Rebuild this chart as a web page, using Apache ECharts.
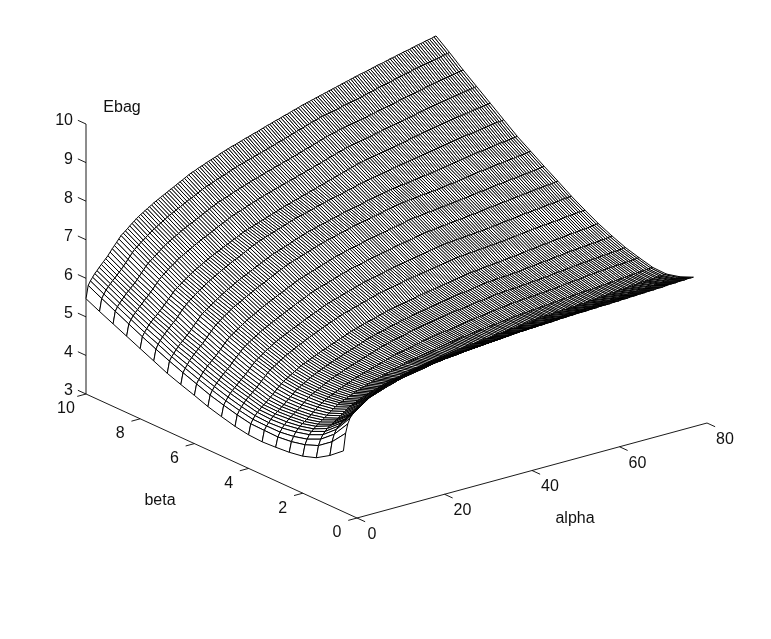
<!DOCTYPE html>
<html><head><meta charset="utf-8"><style>html,body{margin:0;background:#fff}#c{width:771px;height:639px}</style>
<script src="https://cdn.jsdelivr.net/npm/echarts@6/dist/echarts.min.js"></script></head><body><div id="c"></div>
<script>
const alphaTicks=[0,20,40,60,80];
const betaTicks=[0,2,4,6,8,10];
const ebagTicks=[3,4,5,6,7,8,9,10];
const alphaGrid=[0,
.5,1,1.5,2,2.5,3,3.5,4,4.5,5,5.5,6,6.5,7,7.5,8,8.5,9,9.5,10,
10.5,11,11.5,12,12.5,13,13.5,14,14.5,15,15.5,16,16.5,17,17.5,18,18.5,19,19.5,20,
20.5,21,21.5,22,22.5,23,23.5,24,24.5,25,25.5,26,26.5,27,27.5,28,28.5,29,29.5,30,
30.5,31,31.5,32,32.5,33,33.5,34,34.5,35,35.5,36,36.5,37,37.5,38,38.5,39,39.5,40,
40.5,41,41.5,42,42.5,43,43.5,44,44.5,45,45.5,46,46.5,47,47.5,48,48.5,49,49.5,50,
50.5,51,51.5,52,52.5,53,53.5,54,54.5,55,55.5,56,56.5,57,57.5,58,58.5,59,59.5,60,
60.5,61,61.5,62,62.5,63,63.5,64,64.5,65,65.5,66,66.5,67,67.5,68,68.5,69,69.5,70,
70.5,71,71.5,72,72.5,73,73.5,74,74.5,75,75.5,76,76.5,77,77.5,78,78.5,79,79.5,80];
const betaGrid=[0.5,1,1.5,2,2.5,3,3.5,4,4.5,5,5.5,6,6.5,7,7.5,8,8.5,9,9.5,10];
const ebag=[
[4.58,
5.02,5.25,5.38,5.45,5.50,5.54,5.58,5.62,5.66,5.70,
5.74,5.78,5.82,5.85,5.88,5.91,5.93,5.95,5.97,5.99,
6.01,6.02,6.04,6.05,6.07,6.08,6.10,6.11,6.13,6.14,
6.16,6.17,6.18,6.19,6.20,6.21,6.22,6.22,6.23,6.24,
6.25,6.25,6.26,6.27,6.28,6.28,6.29,6.29,6.30,6.30,
6.31,6.31,6.31,6.31,6.32,6.32,6.33,6.33,6.34,6.34,
6.34,6.34,6.35,6.35,6.36,6.36,6.37,6.37,6.38,6.38,
6.38,6.38,6.39,6.39,6.40,6.40,6.41,6.41,6.42,6.42,
6.43,6.43,6.43,6.43,6.44,6.44,6.44,6.44,6.45,6.45,
6.45,6.45,6.46,6.46,6.46,6.46,6.47,6.47,6.48,6.48,
6.48,6.48,6.49,6.49,6.49,6.49,6.50,6.50,6.50,6.50,
6.50,6.50,6.51,6.51,6.51,6.51,6.52,6.52,6.52,6.52,
6.52,6.52,6.53,6.53,6.53,6.53,6.54,6.54,6.54,6.54,
6.55,6.55,6.55,6.55,6.56,6.56,6.56,6.56,6.57,6.57,
6.57,6.57,6.58,6.58,6.58,6.58,6.59,6.59,6.60,6.60,
6.60,6.60,6.61,6.61,6.61,6.61,6.62,6.62,6.62,6.62],
[4.30,
4.64,4.82,4.93,5.00,5.06,5.11,5.14,5.19,5.22,5.26,
5.30,5.34,5.38,5.41,5.45,5.48,5.50,5.52,5.54,5.56,
5.58,5.60,5.62,5.64,5.66,5.68,5.70,5.71,5.73,5.75,
5.77,5.78,5.80,5.81,5.82,5.83,5.84,5.85,5.86,5.87,
5.88,5.89,5.90,5.91,5.93,5.94,5.95,5.96,5.97,5.97,
5.98,5.99,6.00,6.00,6.01,6.01,6.02,6.02,6.03,6.04,
6.05,6.05,6.06,6.06,6.07,6.07,6.08,6.08,6.09,6.09,
6.10,6.10,6.11,6.12,6.13,6.13,6.14,6.14,6.15,6.15,
6.16,6.16,6.17,6.17,6.18,6.18,6.19,6.19,6.20,6.20,
6.21,6.21,6.22,6.22,6.23,6.23,6.24,6.24,6.25,6.25,
6.26,6.26,6.26,6.26,6.27,6.27,6.28,6.28,6.28,6.28,
6.29,6.29,6.30,6.30,6.30,6.30,6.31,6.31,6.32,6.32,
6.33,6.33,6.34,6.34,6.34,6.34,6.35,6.35,6.36,6.36,
6.37,6.37,6.38,6.38,6.38,6.38,6.39,6.39,6.40,6.40,
6.41,6.41,6.41,6.41,6.42,6.42,6.43,6.43,6.44,6.44,
6.44,6.44,6.45,6.45,6.46,6.46,6.46,6.46,6.47,6.47],
[4.08,
4.38,4.53,4.63,4.70,4.76,4.81,4.84,4.88,4.92,4.95,
5.00,5.04,5.08,5.12,5.16,5.19,5.22,5.24,5.27,5.29,
5.32,5.34,5.36,5.38,5.40,5.42,5.44,5.45,5.47,5.49,
5.51,5.52,5.54,5.55,5.56,5.57,5.59,5.60,5.62,5.63,
5.64,5.65,5.67,5.68,5.69,5.70,5.72,5.73,5.74,5.75,
5.76,5.77,5.78,5.79,5.80,5.81,5.82,5.82,5.83,5.84,
5.85,5.86,5.87,5.88,5.89,5.89,5.90,5.91,5.92,5.92,
5.93,5.93,5.94,5.95,5.96,5.96,5.97,5.97,5.98,5.99,
6.00,6.00,6.01,6.01,6.02,6.03,6.04,6.04,6.05,6.05,
6.06,6.07,6.08,6.08,6.09,6.09,6.10,6.11,6.12,6.12,
6.13,6.13,6.14,6.14,6.14,6.14,6.15,6.15,6.16,6.16,
6.16,6.16,6.17,6.17,6.18,6.18,6.18,6.18,6.19,6.19,
6.20,6.20,6.21,6.21,6.22,6.22,6.23,6.23,6.24,6.24,
6.25,6.25,6.26,6.26,6.27,6.27,6.28,6.28,6.29,6.29,
6.30,6.30,6.31,6.31,6.32,6.32,6.33,6.33,6.34,6.34,
6.34,6.34,6.35,6.35,6.36,6.36,6.37,6.37,6.38,6.38],
[3.96,
4.24,4.37,4.47,4.54,4.59,4.64,4.68,4.72,4.76,4.80,
4.85,4.89,4.93,4.97,5.01,5.05,5.08,5.10,5.13,5.15,
5.18,5.20,5.23,5.25,5.27,5.29,5.31,5.33,5.35,5.37,
5.39,5.41,5.43,5.44,5.46,5.47,5.49,5.50,5.52,5.54,
5.56,5.57,5.59,5.60,5.62,5.63,5.65,5.66,5.67,5.68,
5.69,5.70,5.72,5.73,5.74,5.75,5.76,5.77,5.78,5.79,
5.81,5.82,5.83,5.84,5.85,5.86,5.87,5.87,5.88,5.89,
5.90,5.91,5.92,5.92,5.93,5.94,5.95,5.95,5.96,5.97,
5.98,5.98,5.99,6.00,6.01,6.01,6.02,6.02,6.03,6.04,
6.05,6.05,6.06,6.06,6.07,6.08,6.09,6.09,6.10,6.10,
6.11,6.11,6.12,6.12,6.13,6.13,6.14,6.14,6.15,6.15,
6.16,6.16,6.17,6.17,6.18,6.18,6.19,6.19,6.20,6.20,
6.21,6.21,6.22,6.22,6.23,6.23,6.24,6.24,6.25,6.25,
6.25,6.25,6.26,6.26,6.27,6.27,6.28,6.28,6.29,6.29,
6.30,6.30,6.31,6.31,6.32,6.32,6.33,6.33,6.34,6.34,
6.35,6.35,6.36,6.36,6.37,6.37,6.38,6.38,6.39,6.39],
[3.90,
4.16,4.28,4.38,4.45,4.50,4.55,4.59,4.63,4.68,4.72,
4.77,4.82,4.87,4.91,4.95,4.99,5.02,5.05,5.08,5.10,
5.13,5.16,5.19,5.21,5.24,5.26,5.28,5.30,5.33,5.35,
5.37,5.39,5.41,5.43,5.45,5.46,5.48,5.50,5.52,5.53,
5.55,5.57,5.59,5.60,5.62,5.64,5.66,5.67,5.69,5.70,
5.71,5.72,5.74,5.75,5.76,5.77,5.79,5.80,5.81,5.82,
5.84,5.85,5.86,5.87,5.88,5.89,5.90,5.91,5.92,5.93,
5.94,5.94,5.95,5.96,5.97,5.98,5.99,6.00,6.01,6.02,
6.03,6.04,6.05,6.05,6.06,6.07,6.08,6.08,6.09,6.10,
6.11,6.12,6.13,6.13,6.14,6.15,6.16,6.16,6.17,6.18,
6.19,6.19,6.20,6.20,6.21,6.21,6.22,6.22,6.23,6.23,
6.23,6.23,6.24,6.24,6.25,6.25,6.26,6.26,6.27,6.27,
6.28,6.28,6.29,6.29,6.30,6.31,6.32,6.32,6.33,6.33,
6.34,6.34,6.35,6.35,6.36,6.37,6.38,6.38,6.39,6.39,
6.40,6.40,6.41,6.41,6.42,6.42,6.43,6.43,6.44,6.44,
6.44,6.44,6.45,6.45,6.46,6.46,6.47,6.47,6.48,6.48],
[3.87,
4.12,4.23,4.32,4.39,4.45,4.51,4.55,4.60,4.64,4.68,
4.73,4.78,4.83,4.88,4.93,4.97,5.00,5.03,5.06,5.09,
5.12,5.15,5.18,5.21,5.24,5.26,5.29,5.31,5.33,5.35,
5.38,5.40,5.42,5.44,5.46,5.48,5.50,5.52,5.54,5.56,
5.58,5.60,5.62,5.64,5.66,5.68,5.70,5.72,5.74,5.75,
5.77,5.78,5.80,5.81,5.83,5.84,5.85,5.86,5.88,5.89,
5.91,5.92,5.94,5.95,5.96,5.97,5.98,5.99,6.00,6.01,
6.02,6.03,6.04,6.05,6.06,6.07,6.08,6.09,6.10,6.11,
6.12,6.13,6.14,6.14,6.15,6.16,6.17,6.17,6.18,6.19,
6.20,6.21,6.22,6.22,6.23,6.24,6.25,6.25,6.26,6.27,
6.28,6.28,6.29,6.29,6.30,6.30,6.31,6.31,6.31,6.31,
6.32,6.32,6.33,6.33,6.34,6.34,6.35,6.35,6.36,6.36,
6.37,6.37,6.38,6.38,6.39,6.40,6.41,6.41,6.42,6.42,
6.43,6.43,6.44,6.44,6.45,6.46,6.47,6.47,6.48,6.48,
6.49,6.49,6.50,6.50,6.51,6.51,6.52,6.52,6.53,6.53,
6.54,6.54,6.55,6.55,6.56,6.56,6.57,6.57,6.58,6.58],
[3.85,
4.13,4.23,4.30,4.37,4.43,4.48,4.53,4.57,4.62,4.66,
4.72,4.77,4.82,4.87,4.92,4.97,5.00,5.04,5.07,5.10,
5.14,5.17,5.20,5.23,5.26,5.28,5.31,5.33,5.36,5.38,
5.41,5.43,5.45,5.47,5.49,5.51,5.54,5.56,5.58,5.60,
5.62,5.64,5.66,5.68,5.70,5.73,5.75,5.77,5.79,5.80,
5.82,5.83,5.85,5.86,5.88,5.89,5.91,5.92,5.94,5.95,
5.97,5.98,6.00,6.01,6.02,6.03,6.04,6.05,6.07,6.08,
6.09,6.10,6.11,6.12,6.13,6.14,6.16,6.17,6.18,6.19,
6.20,6.21,6.22,6.23,6.24,6.25,6.26,6.27,6.28,6.29,
6.30,6.30,6.31,6.32,6.33,6.34,6.35,6.36,6.37,6.38,
6.39,6.39,6.40,6.40,6.41,6.41,6.42,6.42,6.43,6.43,
6.43,6.43,6.44,6.44,6.45,6.45,6.46,6.46,6.47,6.48,
6.49,6.49,6.50,6.50,6.51,6.52,6.53,6.53,6.54,6.54,
6.55,6.56,6.57,6.57,6.58,6.58,6.59,6.60,6.61,6.61,
6.62,6.62,6.63,6.63,6.64,6.64,6.65,6.65,6.66,6.66,
6.67,6.67,6.68,6.68,6.69,6.69,6.70,6.71,6.72,6.72],
[3.87,
4.14,4.24,4.32,4.39,4.44,4.50,4.54,4.59,4.64,4.69,
4.75,4.80,4.86,4.91,4.96,5.01,5.05,5.08,5.12,5.15,
5.19,5.22,5.26,5.29,5.32,5.34,5.37,5.39,5.42,5.44,
5.47,5.49,5.52,5.54,5.56,5.58,5.61,5.63,5.65,5.67,
5.70,5.72,5.74,5.76,5.79,5.81,5.83,5.85,5.87,5.88,
5.90,5.92,5.94,5.95,5.97,5.98,6.00,6.01,6.03,6.05,
6.07,6.08,6.10,6.11,6.12,6.13,6.15,6.16,6.17,6.18,
6.19,6.20,6.22,6.23,6.24,6.25,6.27,6.28,6.29,6.30,
6.31,6.32,6.33,6.34,6.35,6.36,6.37,6.38,6.39,6.40,
6.41,6.42,6.43,6.44,6.45,6.46,6.47,6.48,6.49,6.50,
6.51,6.51,6.52,6.52,6.53,6.54,6.55,6.55,6.56,6.56,
6.57,6.57,6.58,6.58,6.59,6.60,6.61,6.61,6.62,6.62,
6.63,6.63,6.64,6.65,6.66,6.66,6.67,6.68,6.69,6.69,
6.70,6.70,6.71,6.72,6.73,6.73,6.74,6.75,6.76,6.76,
6.77,6.77,6.78,6.78,6.79,6.80,6.81,6.81,6.82,6.82,
6.83,6.83,6.84,6.84,6.85,6.86,6.87,6.87,6.88,6.88],
[3.93,
4.21,4.31,4.39,4.47,4.53,4.59,4.63,4.69,4.74,4.79,
4.85,4.91,4.97,5.03,5.09,5.14,5.18,5.21,5.25,5.29,
5.33,5.36,5.40,5.43,5.46,5.49,5.52,5.55,5.58,5.60,
5.63,5.66,5.69,5.71,5.74,5.76,5.79,5.81,5.84,5.86,
5.89,5.91,5.94,5.96,5.98,6.00,6.03,6.05,6.07,6.09,
6.11,6.12,6.14,6.16,6.18,6.19,6.21,6.23,6.25,6.26,
6.28,6.30,6.32,6.33,6.35,6.36,6.37,6.38,6.40,6.41,
6.42,6.43,6.45,6.46,6.47,6.48,6.50,6.51,6.52,6.53,
6.54,6.55,6.56,6.57,6.58,6.59,6.60,6.61,6.62,6.63,
6.64,6.65,6.66,6.67,6.68,6.69,6.70,6.71,6.72,6.73,
6.74,6.74,6.75,6.75,6.76,6.76,6.77,6.77,6.78,6.78,
6.79,6.79,6.80,6.80,6.81,6.81,6.82,6.82,6.83,6.83,
6.84,6.84,6.85,6.86,6.87,6.87,6.88,6.88,6.89,6.90,
6.91,6.91,6.92,6.92,6.93,6.94,6.95,6.95,6.96,6.96,
6.97,6.97,6.98,6.98,6.99,6.99,7.00,7.00,7.01,7.02,
7.03,7.03,7.04,7.04,7.05,7.05,7.06,7.06,7.07,7.07],
[4.02,
4.30,4.40,4.48,4.56,4.62,4.68,4.73,4.79,4.84,4.89,
4.95,5.01,5.07,5.13,5.19,5.24,5.28,5.32,5.36,5.40,
5.44,5.47,5.51,5.55,5.58,5.61,5.64,5.67,5.70,5.72,
5.75,5.78,5.81,5.83,5.86,5.88,5.91,5.94,5.97,5.99,
6.02,6.04,6.07,6.09,6.12,6.14,6.17,6.19,6.21,6.23,
6.25,6.26,6.28,6.30,6.32,6.34,6.36,6.37,6.39,6.41,
6.43,6.44,6.46,6.48,6.50,6.51,6.52,6.53,6.55,6.56,
6.58,6.59,6.60,6.61,6.63,6.64,6.65,6.66,6.68,6.69,
6.70,6.71,6.72,6.73,6.75,6.76,6.77,6.78,6.79,6.80,
6.81,6.82,6.83,6.84,6.86,6.87,6.88,6.89,6.90,6.91,
6.91,6.92,6.93,6.93,6.94,6.94,6.95,6.95,6.96,6.96,
6.97,6.97,6.98,6.98,6.99,6.99,7.00,7.00,7.01,7.01,
7.02,7.02,7.03,7.04,7.05,7.05,7.06,7.07,7.08,7.08,
7.09,7.09,7.10,7.11,7.12,7.12,7.13,7.14,7.15,7.15,
7.16,7.16,7.17,7.17,7.18,7.19,7.20,7.20,7.21,7.21,
7.22,7.22,7.23,7.23,7.24,7.25,7.26,7.26,7.27,7.27],
[4.12,
4.40,4.51,4.59,4.67,4.73,4.79,4.85,4.90,4.96,5.01,
5.08,5.14,5.20,5.26,5.32,5.38,5.42,5.46,5.50,5.54,
5.58,5.61,5.65,5.69,5.72,5.75,5.78,5.81,5.84,5.87,
5.90,5.93,5.96,5.98,6.01,6.04,6.07,6.09,6.12,6.15,
6.18,6.20,6.23,6.25,6.28,6.31,6.34,6.36,6.38,6.40,
6.42,6.44,6.46,6.47,6.49,6.51,6.53,6.55,6.57,6.59,
6.61,6.62,6.64,6.66,6.68,6.69,6.71,6.72,6.73,6.74,
6.76,6.77,6.79,6.80,6.82,6.83,6.84,6.85,6.87,6.88,
6.89,6.90,6.91,6.92,6.94,6.95,6.96,6.97,6.98,6.99,
7.00,7.01,7.02,7.03,7.05,7.06,7.07,7.08,7.09,7.10,
7.11,7.11,7.12,7.13,7.14,7.14,7.15,7.15,7.16,7.17,
7.18,7.18,7.19,7.19,7.20,7.20,7.21,7.22,7.23,7.23,
7.24,7.24,7.25,7.26,7.27,7.27,7.28,7.29,7.30,7.30,
7.31,7.31,7.32,7.33,7.34,7.34,7.35,7.36,7.37,7.37,
7.38,7.38,7.39,7.40,7.41,7.41,7.42,7.42,7.43,7.44,
7.45,7.45,7.46,7.46,7.47,7.47,7.48,7.49,7.50,7.50],
[4.25,
4.53,4.63,4.71,4.79,4.85,4.92,4.97,5.03,5.08,5.13,
5.20,5.26,5.33,5.39,5.45,5.51,5.55,5.59,5.63,5.67,
5.71,5.75,5.79,5.83,5.86,5.89,5.92,5.95,5.99,6.02,
6.05,6.08,6.11,6.14,6.17,6.19,6.22,6.25,6.28,6.30,
6.33,6.36,6.39,6.41,6.44,6.47,6.50,6.52,6.54,6.56,
6.58,6.60,6.62,6.64,6.66,6.68,6.70,6.72,6.74,6.76,
6.78,6.80,6.82,6.84,6.86,6.87,6.89,6.90,6.92,6.93,
6.95,6.96,6.97,6.98,7.00,7.01,7.03,7.04,7.06,7.07,
7.08,7.09,7.11,7.12,7.13,7.14,7.15,7.16,7.18,7.19,
7.20,7.21,7.22,7.23,7.24,7.25,7.27,7.28,7.29,7.30,
7.31,7.31,7.32,7.33,7.34,7.34,7.35,7.35,7.36,7.37,
7.38,7.38,7.39,7.39,7.40,7.41,7.42,7.42,7.43,7.43,
7.44,7.45,7.46,7.46,7.47,7.48,7.49,7.49,7.50,7.51,
7.52,7.52,7.53,7.54,7.55,7.55,7.56,7.57,7.58,7.58,
7.59,7.59,7.60,7.61,7.62,7.62,7.63,7.64,7.65,7.65,
7.66,7.66,7.67,7.68,7.69,7.69,7.70,7.71,7.72,7.72],
[4.37,
4.66,4.76,4.84,4.93,4.99,5.06,5.11,5.17,5.23,5.28,
5.35,5.41,5.48,5.54,5.61,5.67,5.71,5.75,5.80,5.84,
5.88,5.92,5.96,6.00,6.03,6.06,6.09,6.12,6.16,6.19,
6.22,6.25,6.28,6.31,6.34,6.37,6.40,6.42,6.45,6.48,
6.51,6.54,6.57,6.60,6.63,6.65,6.68,6.71,6.73,6.75,
6.77,6.79,6.81,6.83,6.85,6.87,6.89,6.91,6.93,6.95,
6.97,6.99,7.01,7.03,7.05,7.06,7.08,7.09,7.11,7.12,
7.14,7.15,7.17,7.18,7.20,7.21,7.23,7.24,7.26,7.27,
7.28,7.29,7.31,7.32,7.33,7.34,7.36,7.37,7.38,7.39,
7.40,7.41,7.43,7.44,7.45,7.46,7.48,7.49,7.50,7.51,
7.52,7.52,7.53,7.54,7.55,7.55,7.56,7.56,7.57,7.58,
7.59,7.59,7.60,7.60,7.61,7.61,7.62,7.63,7.64,7.64,
7.65,7.66,7.67,7.67,7.68,7.69,7.70,7.71,7.72,7.73,
7.74,7.74,7.75,7.76,7.77,7.78,7.79,7.79,7.80,7.81,
7.82,7.82,7.83,7.84,7.85,7.85,7.86,7.87,7.88,7.88,
7.89,7.89,7.90,7.91,7.92,7.92,7.93,7.94,7.95,7.95],
[4.50,
4.80,4.90,4.97,5.05,5.11,5.18,5.23,5.29,5.35,5.40,
5.47,5.54,5.61,5.67,5.74,5.80,5.84,5.88,5.92,5.96,
6.00,6.04,6.08,6.12,6.16,6.19,6.23,6.26,6.29,6.32,
6.36,6.39,6.42,6.45,6.48,6.50,6.53,6.56,6.59,6.62,
6.65,6.67,6.70,6.73,6.76,6.78,6.81,6.84,6.86,6.88,
6.90,6.92,6.94,6.96,6.98,7.00,7.03,7.05,7.07,7.09,
7.11,7.13,7.15,7.17,7.19,7.20,7.22,7.23,7.25,7.26,
7.28,7.29,7.31,7.32,7.34,7.35,7.37,7.38,7.40,7.41,
7.43,7.44,7.45,7.46,7.48,7.49,7.50,7.51,7.53,7.54,
7.56,7.57,7.58,7.59,7.61,7.62,7.63,7.64,7.66,7.67,
7.68,7.69,7.70,7.70,7.71,7.72,7.73,7.73,7.74,7.75,
7.76,7.77,7.78,7.78,7.79,7.80,7.81,7.81,7.82,7.83,
7.84,7.85,7.86,7.87,7.88,7.89,7.90,7.91,7.92,7.93,
7.94,7.94,7.95,7.96,7.97,7.98,7.99,8.00,8.01,8.02,
8.03,8.04,8.05,8.05,8.06,8.07,8.08,8.08,8.09,8.10,
8.11,8.12,8.13,8.13,8.14,8.15,8.16,8.16,8.17,8.18],
[4.66,
4.95,5.06,5.14,5.22,5.28,5.35,5.40,5.46,5.52,5.57,
5.64,5.71,5.78,5.84,5.90,5.96,6.00,6.04,6.09,6.13,
6.17,6.21,6.25,6.29,6.33,6.36,6.40,6.43,6.46,6.49,
6.53,6.56,6.59,6.62,6.65,6.68,6.71,6.73,6.76,6.79,
6.82,6.85,6.88,6.91,6.94,6.96,6.99,7.02,7.04,7.06,
7.08,7.10,7.12,7.14,7.16,7.18,7.20,7.22,7.24,7.26,
7.28,7.30,7.32,7.34,7.36,7.37,7.39,7.40,7.42,7.43,
7.45,7.46,7.48,7.50,7.52,7.53,7.55,7.56,7.58,7.59,
7.61,7.62,7.64,7.65,7.66,7.67,7.69,7.70,7.72,7.73,
7.75,7.76,7.78,7.79,7.80,7.81,7.83,7.84,7.86,7.87,
7.88,7.89,7.90,7.91,7.92,7.93,7.94,7.95,7.97,7.98,
7.99,8.00,8.01,8.02,8.03,8.04,8.05,8.06,8.07,8.08,
8.09,8.10,8.11,8.12,8.13,8.14,8.15,8.16,8.17,8.18,
8.19,8.20,8.21,8.22,8.23,8.24,8.25,8.26,8.27,8.28,
8.29,8.30,8.31,8.31,8.32,8.33,8.34,8.35,8.36,8.37,
8.38,8.38,8.39,8.40,8.41,8.42,8.43,8.43,8.44,8.45],
[4.82,
5.11,5.21,5.29,5.37,5.43,5.49,5.54,5.60,5.66,5.71,
5.78,5.84,5.91,5.97,6.04,6.10,6.14,6.18,6.23,6.27,
6.31,6.35,6.39,6.43,6.47,6.50,6.53,6.56,6.60,6.63,
6.66,6.69,6.72,6.75,6.78,6.80,6.83,6.86,6.89,6.91,
6.94,6.97,7.00,7.02,7.05,7.08,7.11,7.13,7.15,7.17,
7.19,7.21,7.23,7.25,7.27,7.29,7.31,7.33,7.35,7.37,
7.39,7.41,7.43,7.45,7.47,7.49,7.51,7.52,7.54,7.56,
7.58,7.59,7.61,7.63,7.65,7.66,7.68,7.70,7.72,7.73,
7.75,7.77,7.79,7.80,7.82,7.84,7.86,7.87,7.89,7.91,
7.93,7.94,7.96,7.98,8.00,8.01,8.03,8.05,8.07,8.08,
8.09,8.10,8.12,8.13,8.14,8.15,8.16,8.17,8.19,8.20,
8.21,8.22,8.23,8.24,8.25,8.26,8.28,8.29,8.30,8.31,
8.32,8.33,8.35,8.36,8.37,8.38,8.39,8.40,8.42,8.43,
8.44,8.45,8.46,8.47,8.48,8.49,8.51,8.52,8.53,8.54,
8.55,8.56,8.57,8.58,8.59,8.59,8.60,8.61,8.62,8.63,
8.64,8.65,8.66,8.67,8.68,8.68,8.69,8.70,8.71,8.72],
[4.98,
5.28,5.38,5.46,5.53,5.59,5.66,5.71,5.78,5.83,5.89,
5.96,6.02,6.09,6.15,6.22,6.28,6.33,6.37,6.42,6.46,
6.50,6.54,6.59,6.63,6.66,6.69,6.73,6.76,6.79,6.82,
6.86,6.89,6.92,6.95,6.98,7.00,7.03,7.06,7.09,7.12,
7.15,7.18,7.21,7.23,7.26,7.29,7.32,7.35,7.37,7.39,
7.41,7.43,7.45,7.47,7.50,7.52,7.54,7.56,7.58,7.60,
7.62,7.64,7.66,7.68,7.70,7.71,7.73,7.75,7.77,7.78,
7.80,7.82,7.84,7.85,7.87,7.88,7.90,7.92,7.94,7.95,
7.97,7.99,8.01,8.02,8.04,8.06,8.08,8.09,8.11,8.13,
8.15,8.17,8.19,8.20,8.22,8.24,8.26,8.27,8.29,8.31,
8.32,8.33,8.35,8.36,8.37,8.38,8.40,8.41,8.42,8.43,
8.44,8.45,8.47,8.48,8.49,8.50,8.52,8.53,8.54,8.55,
8.56,8.57,8.59,8.60,8.61,8.62,8.64,8.65,8.66,8.67,
8.68,8.69,8.71,8.72,8.73,8.74,8.76,8.77,8.78,8.79,
8.80,8.81,8.82,8.83,8.84,8.85,8.86,8.87,8.88,8.89,
8.90,8.91,8.92,8.93,8.94,8.95,8.96,8.97,8.98,8.99],
[5.14,
5.45,5.55,5.63,5.70,5.76,5.83,5.88,5.94,6.00,6.05,
6.12,6.19,6.26,6.33,6.40,6.46,6.51,6.55,6.60,6.64,
6.69,6.73,6.78,6.82,6.86,6.89,6.93,6.96,6.99,7.02,
7.06,7.09,7.12,7.15,7.18,7.20,7.23,7.26,7.29,7.32,
7.35,7.38,7.41,7.44,7.47,7.49,7.52,7.55,7.57,7.59,
7.61,7.63,7.65,7.67,7.70,7.72,7.74,7.76,7.78,7.80,
7.82,7.84,7.86,7.88,7.90,7.91,7.93,7.95,7.97,7.99,
8.01,8.02,8.04,8.06,8.08,8.09,8.11,8.13,8.15,8.16,
8.18,8.20,8.22,8.23,8.25,8.27,8.29,8.31,8.33,8.34,
8.36,8.38,8.40,8.42,8.44,8.46,8.48,8.49,8.51,8.53,
8.54,8.55,8.57,8.58,8.59,8.60,8.62,8.63,8.64,8.65,
8.66,8.67,8.69,8.70,8.71,8.72,8.74,8.75,8.76,8.77,
8.79,8.80,8.81,8.82,8.84,8.85,8.86,8.87,8.89,8.90,
8.92,8.93,8.94,8.95,8.97,8.98,8.99,9.00,9.02,9.03,
9.04,9.05,9.07,9.08,9.09,9.10,9.11,9.12,9.14,9.15,
9.16,9.17,9.18,9.19,9.20,9.21,9.23,9.24,9.25,9.26],
[5.30,
5.62,5.72,5.81,5.88,5.94,6.01,6.06,6.12,6.18,6.24,
6.31,6.38,6.45,6.52,6.59,6.66,6.71,6.75,6.80,6.84,
6.89,6.93,6.98,7.02,7.06,7.09,7.13,7.16,7.20,7.23,
7.27,7.30,7.33,7.36,7.39,7.42,7.45,7.48,7.51,7.54,
7.57,7.59,7.62,7.65,7.68,7.71,7.74,7.77,7.79,7.81,
7.83,7.85,7.88,7.90,7.92,7.94,7.96,7.98,8.01,8.03,
8.05,8.07,8.09,8.11,8.13,8.14,8.16,8.18,8.20,8.21,
8.23,8.25,8.27,8.28,8.30,8.32,8.34,8.35,8.37,8.39,
8.41,8.43,8.45,8.46,8.48,8.50,8.52,8.54,8.56,8.58,
8.60,8.61,8.63,8.65,8.67,8.69,8.71,8.72,8.74,8.76,
8.78,8.79,8.80,8.81,8.83,8.84,8.85,8.86,8.88,8.89,
8.91,8.92,8.93,8.94,8.96,8.97,8.98,8.99,9.01,9.02,
9.04,9.05,9.07,9.08,9.10,9.11,9.13,9.14,9.16,9.17,
9.18,9.19,9.21,9.22,9.24,9.25,9.27,9.28,9.30,9.31,
9.32,9.33,9.35,9.36,9.37,9.38,9.40,9.41,9.42,9.43,
9.44,9.45,9.47,9.48,9.49,9.50,9.52,9.53,9.54,9.55],
[5.47,
5.80,5.90,5.98,6.06,6.12,6.19,6.25,6.31,6.37,6.43,
6.51,6.58,6.65,6.72,6.79,6.86,6.91,6.95,7.00,7.05,
7.10,7.14,7.19,7.23,7.27,7.30,7.34,7.37,7.41,7.44,
7.48,7.51,7.54,7.57,7.60,7.63,7.66,7.69,7.72,7.75,
7.78,7.81,7.84,7.87,7.90,7.93,7.96,7.99,8.01,8.03,
8.06,8.08,8.10,8.12,8.15,8.17,8.19,8.21,8.23,8.25,
8.28,8.30,8.32,8.34,8.36,8.38,8.40,8.41,8.43,8.45,
8.47,8.49,8.51,8.52,8.54,8.56,8.58,8.59,8.61,8.63,
8.65,8.67,8.69,8.70,8.72,8.74,8.76,8.77,8.79,8.81,
8.83,8.84,8.86,8.88,8.90,8.91,8.93,8.95,8.97,8.98,
9.00,9.01,9.03,9.04,9.06,9.07,9.09,9.10,9.12,9.13,
9.15,9.16,9.18,9.19,9.21,9.22,9.24,9.25,9.27,9.28,
9.30,9.31,9.33,9.34,9.36,9.37,9.38,9.39,9.41,9.42,
9.44,9.45,9.47,9.48,9.49,9.50,9.52,9.53,9.55,9.56,
9.57,9.59,9.60,9.61,9.63,9.64,9.65,9.66,9.68,9.69,
9.71,9.72,9.73,9.74,9.76,9.77,9.78,9.79,9.81,9.82]
];
const chart=echarts.init(document.getElementById('c'),null,{renderer:'canvas'});
const proj=(a,b,z)=>[357+4.375*a-27.1*b, 518-1.1875*a-12.4*b-(z-3)*38.57];
const cells=[];
for(let j=betaGrid.length-2;j>=0;j--)for(let i=alphaGrid.length-2;i>=0;i--)cells.push([i,j]);
const ls={stroke:'#000',lineWidth:0.9,fill:null};
const font='16px "Liberation Sans"';
function seg(api,p,q,st){const A=api.coord(p),B=api.coord(q);return{type:'line',shape:{x1:A[0],y1:A[1],x2:B[0],y2:B[1]},style:st||ls,silent:true};}
function txt(api,p,dx,dy,s,al){const A=api.coord(p);return{type:'text',x:A[0]+dx,y:A[1]+dy,style:{text:s,font,fill:'#111',align:al||'center',verticalAlign:'middle'},silent:true};}
const option={animation:false,
grid:{left:0,right:0,top:0,bottom:0},
xAxis:{type:'value',min:0,max:771,show:false},
yAxis:{type:'value',min:0,max:639,inverse:true,show:false},
series:[
{type:'custom',coordinateSystem:'cartesian2d',data:[0],z:1,animation:false,encode:{x:0,y:0},renderItem(p,api){
 const ch=[];
 ch.push(seg(api,proj(0,0,3),proj(80,0,3)));
 ch.push(seg(api,proj(0,0,3),proj(0,10,3)));
 ch.push(seg(api,proj(0,10,3),proj(0,10,10)));
 alphaTicks.forEach(a=>{ch.push(seg(api,proj(a,0,3),proj(a,-0.3,3)));ch.push(txt(api,proj(a,0,3),a?18:15,16.5,String(a)));});
 betaTicks.forEach(b=>{ch.push(seg(api,proj(0,b,3),proj(-2,b,3)));ch.push(txt(api,proj(0,b,3),-20,15,String(b)));});
 ebagTicks.forEach(z=>{ch.push(seg(api,proj(0,10,z),proj(0,10.3,z)));ch.push(txt(api,proj(0,10,z),-13,-3,String(z),'right'));});
 return{type:'group',children:ch};
}},
{type:'custom',coordinateSystem:'cartesian2d',data:cells,z:2,animation:false,progressive:0,encode:{x:0,y:1},clip:false,renderItem(p,api){
 const i=api.value(0),j=api.value(1);
 const v=[[i,j],[i+1,j],[i+1,j+1],[i,j+1]].map(([m,n])=>api.coord(proj(alphaGrid[m],betaGrid[n],ebag[n][m])));
 return{type:'polygon',shape:{points:v},style:{fill:'#fff',stroke:'#000',lineWidth:1},silent:true};
}}
],
graphic:[
{type:'text',x:122,y:108,style:{text:'Ebag',font,fill:'#111',align:'center',verticalAlign:'middle'}},
{type:'text',x:160,y:501,style:{text:'beta',font,fill:'#111',align:'center',verticalAlign:'middle'}},
{type:'text',x:575,y:519,style:{text:'alpha',font,fill:'#111',align:'center',verticalAlign:'middle'}}
]};
chart.setOption(option);
</script></body></html>
